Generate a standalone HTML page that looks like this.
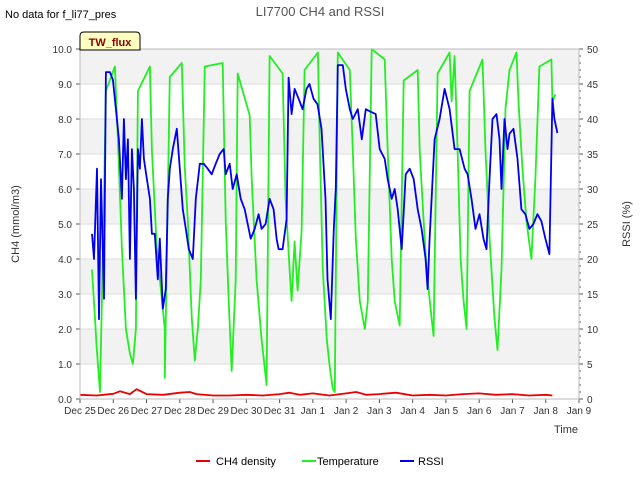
<!DOCTYPE html>
<html><head><meta charset="utf-8"><style>
body{margin:0;background:#fff;font-family:"Liberation Sans",sans-serif}
</style></head><body>
<svg id="c" width="640" height="480" xmlns="http://www.w3.org/2000/svg" font-family="Liberation Sans, sans-serif">
<text x="5" y="18" font-size="11" fill="#000">No data for f_li77_pres</text>
<text x="320" y="16" font-size="13" fill="#555" text-anchor="middle">LI7700 CH4 and RSSI</text>
<g id="bands"></g>
<g id="grid"></g>
<g id="series"></g>
<g id="axes"></g>
<g>
<path d="M80,50 L80,36 Q80,32 84,32 L136,32 Q140,32 140,36 L140,50 Z" fill="#ffffc0" stroke="#000" stroke-width="1"/>
<text x="110" y="46" font-size="11" font-weight="bold" fill="#8b0000" text-anchor="middle">TW_flux</text>
</g>
<text x="19" y="224" font-size="11" fill="#333" text-anchor="middle" transform="rotate(-90 19 224)">CH4 (mmol/m3)</text>
<text x="630" y="224" font-size="11" fill="#333" text-anchor="middle" transform="rotate(-90 630 224)">RSSI (%)</text>
<text x="578" y="433" font-size="11" fill="#333" text-anchor="end">Time</text>
<g>
<g><line x1="196" y1="461" x2="210" y2="461" stroke="#e00" stroke-width="2"/><text x="216" y="465" font-size="11">CH4 density</text></g>
<g><line x1="302" y1="461" x2="316" y2="461" stroke="#22ee22" stroke-width="2"/><text x="317" y="465" font-size="11">Temperature</text></g>
<g><line x1="400" y1="461" x2="414" y2="461" stroke="#0000ee" stroke-width="2"/><text x="418" y="465" font-size="11">RSSI</text></g>
</g>
</svg>
<script>
const xTickLabels=["Dec 25","Dec 26","Dec 27","Dec 28","Dec 29","Dec 30","Dec 31","Jan 1","Jan 2","Jan 3","Jan 4","Jan 5","Jan 6","Jan 7","Jan 8","Jan 9"];
const yLeftTicks=[0,1,2,3,4,5,6,7,8,9,10];
const yRightTicks=[0,5,10,15,20,25,30,35,40,45,50];
const tempDays=[0.36,0.45,0.5,0.6,0.72,0.78,1.05,1.14,1.26,1.38,1.5,1.59,1.68,1.74,2.1,2.16,2.31,2.55,2.55,2.7,3.06,3.15,3.24,3.36,3.45,3.54,3.63,3.75,4.29,4.38,4.47,4.56,4.68,4.74,5.1,5.16,5.31,5.46,5.61,5.7,6.09,6.18,6.3,6.36,6.45,6.54,6.66,6.75,7.15,7.21,7.3,7.42,7.51,7.6,7.66,7.75,8.11,8.2,8.29,8.41,8.56,8.65,8.77,9.16,9.25,9.37,9.46,9.61,9.73,10.15,10.21,10.33,10.42,10.57,10.63,10.75,11.11,11.17,11.26,11.35,11.44,11.53,11.62,11.71,12.1,12.19,12.31,12.46,12.55,12.67,12.79,12.91,13.12,13.18,13.3,13.42,13.57,13.69,13.81,14.17,14.2,14.29];
const tempVals=[3.7,2.3,1.5,0.2,5.7,8.8,9.5,7.4,4.3,2.0,1.3,1.0,2.0,8.8,9.5,7.1,4.3,2.0,0.6,9.2,9.6,6.6,5.1,2.3,1.1,2.0,3.4,9.5,9.6,5.1,2.8,0.8,3.4,9.3,8.1,6.3,3.4,1.7,0.4,9.8,9.3,5.7,3.7,2.8,4.5,3.1,4.8,9.4,9.9,7.1,3.7,1.7,0.9,0.3,0.2,9.9,9.4,7.1,4.6,2.8,2.0,2.8,10.0,9.7,7.1,4.0,2.8,2.1,9.1,9.4,7.1,5.1,3.7,2.3,1.8,9.3,9.9,8.5,9.8,7.1,4.0,2.8,2.0,8.8,9.7,7.1,4.6,2.3,1.4,3.7,8.3,9.4,9.9,8.5,6.6,5.1,4.0,6.3,9.5,9.7,8.5,8.7];
const rssiDays=[0.36,0.42,0.51,0.57,0.63,0.72,0.78,0.9,0.99,1.08,1.17,1.26,1.32,1.38,1.44,1.5,1.56,1.62,1.68,1.74,1.8,1.86,1.92,2.01,2.1,2.16,2.25,2.34,2.4,2.49,2.58,2.64,2.7,2.79,2.91,3.0,3.09,3.18,3.27,3.39,3.48,3.6,3.72,3.84,3.96,4.08,4.2,4.32,4.38,4.5,4.59,4.71,4.83,4.95,5.04,5.13,5.25,5.37,5.46,5.58,5.7,5.82,5.91,5.97,6.09,6.21,6.27,6.36,6.45,6.57,6.69,6.81,6.9,7.02,7.14,7.26,7.38,7.44,7.54,7.63,7.69,7.75,7.9,7.99,8.11,8.2,8.35,8.47,8.59,8.71,8.89,9.01,9.16,9.25,9.37,9.46,9.55,9.67,9.79,9.91,10.03,10.15,10.27,10.39,10.45,10.51,10.66,10.81,10.96,11.11,11.26,11.41,11.56,11.65,11.77,11.89,12.01,12.13,12.22,12.31,12.4,12.52,12.61,12.67,12.76,12.85,12.91,13.03,13.15,13.27,13.39,13.51,13.63,13.75,13.87,13.99,14.11,14.2,14.26,14.35];
const rssiVals=[23.6,20,32.9,11.4,31.4,14.3,46.7,46.7,45.6,41.4,37.1,28.6,40,31.4,37.1,20,35.7,30,14.3,35.7,32.9,40,34.3,31.4,28.6,23.6,23.6,17.1,22.9,12.9,15.7,28.6,32.9,35.7,38.6,32.9,27.1,24.3,21.4,20,28.6,33.6,33.6,32.9,32.1,33.6,35,35.7,32.1,33.6,30,32.1,28.6,27.1,25,22.9,24.3,26.4,24.3,25,28.6,27.1,22.9,21.4,21.4,25.7,45.9,40.7,44.3,42.9,41.4,44.3,45,42.9,42.1,38.6,28.6,17.1,11.4,24.3,30,47.7,47.7,44.3,41.4,40,41.4,37.1,41.4,41.1,40.7,35.7,34.3,31.4,28.6,30,27.1,21.4,32.1,32.9,31.4,27.1,24.3,20,15.7,22.9,37.1,40,44.3,41.4,35.7,35.7,32.9,32.1,28.6,24.3,26.4,22.9,21.4,31.4,40,40.7,37.1,30,40,35.7,37.9,38.6,34.3,27.1,26.4,24.3,25,26.4,25.4,22.9,20.7,42.9,40,38.0];
const ch4Days=[0,0.5,1,1.2,1.5,1.7,2,2.5,3,3.3,3.5,4,4.5,5,5.5,6,6.3,6.6,7,7.5,8,8.3,8.6,9,9.5,10,10.5,11,11.5,12,12.5,13,13.5,14,14.2];
const ch4Vals=[0.12,0.1,0.15,0.22,0.14,0.28,0.14,0.12,0.18,0.2,0.14,0.1,0.1,0.12,0.1,0.14,0.18,0.12,0.16,0.1,0.16,0.2,0.12,0.14,0.18,0.1,0.12,0.1,0.14,0.16,0.12,0.14,0.1,0.12,0.1];
const NS="http://www.w3.org/2000/svg";
const X0=80,X1=579,Y0=399,Y1=49;
const xs=d=>X0+(X1-X0)*d/15;
const yl=v=>Y0-(Y0-Y1)*v/10;
const yr=v=>Y0-(Y0-Y1)*v/50;
function mk(tag,attrs,parent){const e=document.createElementNS(NS,tag);for(const k in attrs)e.setAttribute(k,attrs[k]);parent.appendChild(e);return e;}
const bands=document.getElementById('bands'),grid=document.getElementById('grid'),axes=document.getElementById('axes'),series=document.getElementById('series');
mk('rect',{x:X0,y:Y1,width:X1-X0,height:Y0-Y1,fill:'#fff'},bands);
for(let i=0;i<10;i+=2){mk('rect',{x:X0,y:yl(i+2),width:X1-X0,height:yl(i+1)-yl(i+2),fill:'#f2f2f2'},bands);}
yLeftTicks.forEach(v=>{
 mk('line',{x1:X0,x2:X1,y1:yl(v),y2:yl(v),stroke:'#ddd','stroke-width':1},grid);
 mk('line',{x1:X0-4,x2:X0,y1:yl(v),y2:yl(v),stroke:'#555'},axes);
 const t=mk('text',{x:X0-8,y:yl(v)+4,'font-size':10,'text-anchor':'end',fill:'#333'},axes);t.textContent=v.toFixed(1);
 
 
});
yRightTicks.forEach(v=>{
 mk('line',{x1:X1,x2:X1+4,y1:yr(v),y2:yr(v),stroke:'#555'},axes);
 const t=mk('text',{x:X1+8,y:yr(v)+4,'font-size':10,fill:'#333'},axes);t.textContent=v;
 
 
});
for(let v=0;v<=50;v++)mk('line',{x1:X1,x2:X1+2,y1:yr(v),y2:yr(v),stroke:'#555'},axes);
xTickLabels.forEach((l,i)=>{
 mk('line',{x1:xs(i),x2:xs(i),y1:Y0,y2:Y0+4,stroke:'#555'},axes);
 const t=mk('text',{x:xs(i),y:Y0+15,'font-size':10,'text-anchor':'middle',fill:'#333'},axes);t.textContent=l;
 
 
});
mk('rect',{x:X0,y:Y1,width:X1-X0,height:Y0-Y1,fill:'none',stroke:'#bbb'},axes);
function line(days,vals,yf,color,name){
 const p=mk('polyline',{points:days.map((d,i)=>xs(d).toFixed(1)+','+yf(vals[i]).toFixed(1)).join(' '),fill:'none',stroke:color,'stroke-width':1.8,'stroke-linejoin':'round'},series);
 
 
}
line(tempDays,tempVals,yl,'#22ee22','temperature-line');
line(rssiDays,rssiVals,yr,'#0000ee','rssi-line');
line(ch4Days,ch4Vals,yl,'#ee0000','ch4-density-line');
</script>
</body></html>
